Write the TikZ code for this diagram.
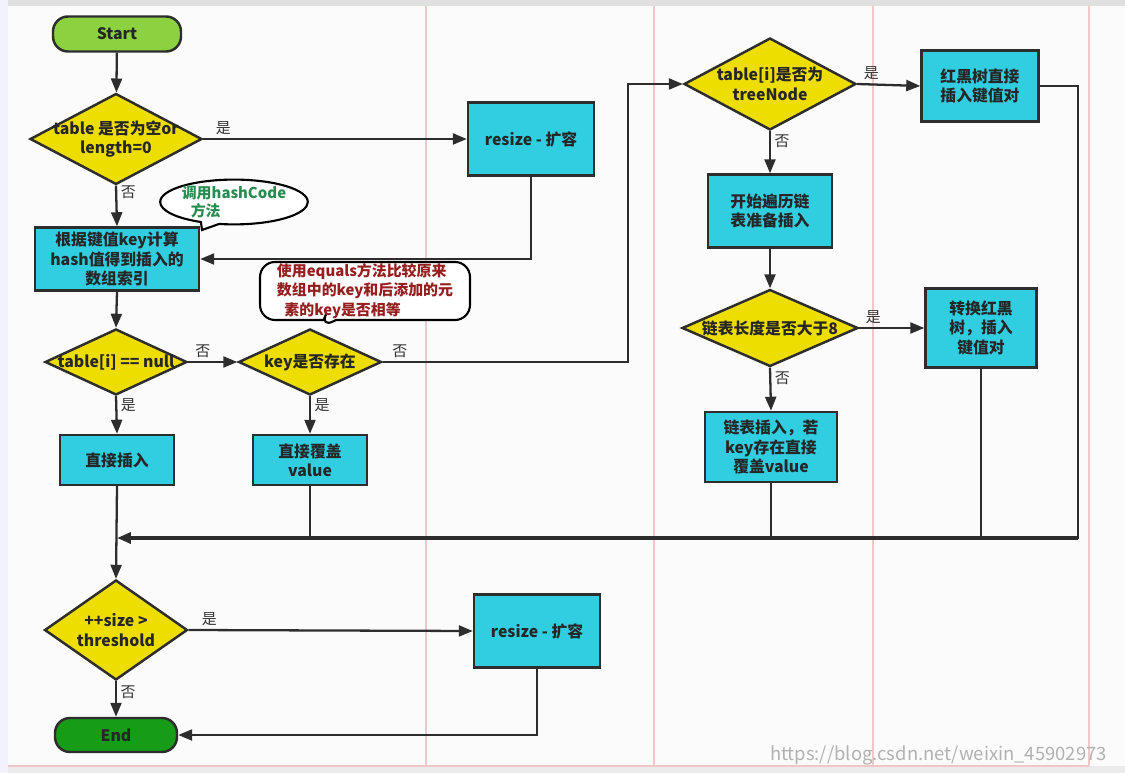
\documentclass[tikz,border=0pt]{standalone}
\usepackage{fontspec}
\setmainfont{Noto Sans CJK SC}
\usetikzlibrary{arrows.meta,shapes.geometric,shapes.callouts,positioning,calc,backgrounds}
\definecolor{boxcyan}{RGB}{48,206,224}
\definecolor{decyellow}{RGB}{238,222,0}
\definecolor{startgreen}{RGB}{140,210,64}
\definecolor{endgreen}{RGB}{22,156,22}
\definecolor{linegray}{RGB}{45,45,45}
\definecolor{pinkline}{RGB}{240,200,200}
\definecolor{paper}{RGB}{250,251,250}
\definecolor{hashgreen}{RGB}{40,140,80}
\definecolor{eqred}{RGB}{150,30,30}

\begin{document}
\begin{tikzpicture}[x=0.02cm,y=-0.02cm,
    every node/.style={font=\fontsize{9}{11}\selectfont\bfseries, text=black!85},
    proc/.style={draw=linegray, line width=1.4pt, fill=boxcyan, align=center, inner sep=0pt},
    dec/.style={diamond, draw=linegray, line width=1.4pt, fill=decyellow, inner sep=0pt},
    term/.style={draw=linegray, line width=1.4pt, rounded corners=0.3cm, inner sep=0pt},
    flow/.style={draw=linegray, line width=1.3pt, -{Triangle[length=0.28cm,width=0.22cm]}},
    link/.style={draw=linegray, line width=1.3pt},
    yn/.style={font=\fontsize{8.5}{10}\selectfont, text=black!80, inner sep=2pt}]
\useasboundingbox (0,0) rectangle (1125,773);
\fill[paper] (0,0) rectangle (1125,773);
\fill[black!12] (0,0) rectangle (1125,6);
\fill[black!8] (0,766) rectangle (1125,773);
\fill[black!18!blue!5] (0,0) rectangle (8,773);
\foreach \px in {426,654,873,1089}
    \draw[pinkline, line width=0.8pt] (\px,6) -- (\px,766);
\draw[pinkline, line width=0.8pt] (8,766) -- (1089,766);

\node[term, fill=startgreen, minimum width=2.56cm, minimum height=0.7cm] (start) at (117,34) {Start};
\node[dec, minimum width=3.44cm, minimum height=1.82cm,
    label={[align=center]center:table 是否为空or\\length=0}] (empty) at (116,139) {};
\node[proc, minimum width=2.52cm, minimum height=1.46cm] (resizeA) at (531,139) {resize - 扩容};
\node[proc, minimum width=3.28cm, minimum height=1.26cm] (hash) at (117,259) {根据键值key计算\\hash值得到插入的\\数组索引};
\node[dec, minimum width=2.84cm, minimum height=1.32cm,
    label={center:table[i] == null}] (isnull) at (116,362) {};
\node[dec, minimum width=2.86cm, minimum height=1.32cm,
    label={center:key是否存在}] (haskey) at (310,362) {};
\node[proc, minimum width=2.28cm, minimum height=1.0cm] (insert) at (117,460) {直接插入};
\node[proc, minimum width=2.28cm, minimum height=1.0cm] (cover) at (310,460) {直接覆盖\\value};
\node[dec, minimum width=3.44cm, minimum height=1.84cm,
    label={[align=center]center:table[i]是否为\\treeNode}] (istree) at (770,84) {};
\node[proc, minimum width=2.34cm, minimum height=1.42cm] (rbput) at (980,86) {红黑树直接\\插入键值对};
\node[proc, minimum width=2.48cm, minimum height=1.46cm] (walk) at (770,211) {开始遍历链\\表准备插入};
\node[dec, minimum width=3.52cm, minimum height=1.54cm,
    label={center:链表长度是否大于8}] (longer) at (770,328) {};
\node[proc, minimum width=2.22cm, minimum height=1.58cm] (torb) at (981,328) {转换红黑\\树，插入\\键值对};
\node[proc, minimum width=2.64cm, minimum height=1.4cm] (listput) at (771,447) {链表插入，若\\key存在直接\\覆盖value};
\node[dec, minimum width=2.86cm, minimum height=2.0cm,
    label={[align=center]center:++size >\\threshold}] (size) at (116,630) {};
\node[proc, minimum width=2.52cm, minimum height=1.46cm] (resizeB) at (537,631) {resize - 扩容};
\node[term, fill=endgreen, minimum width=2.44cm, minimum height=0.68cm] (end) at (116,735) {End};

\node[ellipse callout, draw=black, line width=1.2pt, fill=white, inner sep=0pt,
    minimum width=2.36cm, minimum height=0.8cm, callout absolute pointer={(202,230)},
    align=left, text=hashgreen, font=\fontsize{8.5}{10}\selectfont\bfseries] (hashnote) at (234,202)
    {调用hashCode\\\hspace*{0.6em}方法};
\node[rectangle callout, draw=black, line width=1.2pt, fill=white, rounded corners=0.3cm, inner sep=0pt,
    minimum width=4.2cm, minimum height=1.16cm, callout absolute pointer={(320,328)},
    align=left, text=eqred, font=\fontsize{8.5}{11}\selectfont\bfseries] (eqnote) at (365,291)
    {使用equals方法比较原来\\数组中的key和后添加的元\\\hspace*{0.5em}素的key是否相等};

\coordinate (turn) at (628,362);
\coordinate (merge) at (117,538);
\coordinate (rbturn) at (1078,86);
\coordinate (rbdown) at (1078,538);

\draw[flow] (start) -- (empty);
\draw[flow] (empty.east) -- node[yn, pos=0.03, above right] {是} (resizeA.west);
\draw[flow] (empty.south) -- node[yn, pos=0.15, right] {否} (hash.north);
\draw[flow] (resizeA.south) |- (hash.east);
\draw[flow] (hash.south) -- (isnull.north);
\draw[flow] (isnull.east) -- node[yn, pos=0.05, above right] {否} (haskey.west);
\draw[flow] (haskey.east) -- node[yn, pos=0.02, above right] {否} (turn) |- (istree.west);
\draw[flow] (istree.east) -- node[yn, pos=0.03, above right] {是} (rbput.west);
\draw[flow] (istree.south) -- node[yn, pos=0.25, right] {否} (walk.north);
\draw[flow] (walk.south) -- (longer.north);
\draw[flow] (longer.east) -- node[yn, pos=0.03, above right] {是} (torb.west);
\draw[flow] (longer.south) -- node[yn, pos=0.25, right] {否} (listput.north);
\draw[flow] (isnull.south) -- node[yn, pos=0.25, right] {是} (insert.north);
\draw[flow] (haskey.south) -- node[yn, pos=0.25, right] {是} (cover.north);
\draw[link, line cap=rect] (rbput.east) -- (rbturn) -- (rbdown);
\draw[flow, line width=2pt] (rbdown) -- (merge);
\draw[link] (torb.south) -- (torb.south |- merge);
\draw[link] (listput.south) -- (listput.south |- merge);
\draw[link] (cover.south) -- (cover.south |- merge);
\draw[flow] (insert.south) -- (size.north);
\draw[flow] (size.east) -- node[yn, pos=0.03, above right] {是} (resizeB.west);
\draw[flow] (size.south) -- node[yn, pos=0.3, right] {否} (end.north);
\draw[flow] (resizeB.south) |- (end.east);

\node[anchor=base east, text=black!30, font=\fontsize{10.5}{12}\selectfont\mdseries] (mark) at (1113,760)
    {https://blog.csdn.net/weixin\_45902973};
\end{tikzpicture}
\end{document}
